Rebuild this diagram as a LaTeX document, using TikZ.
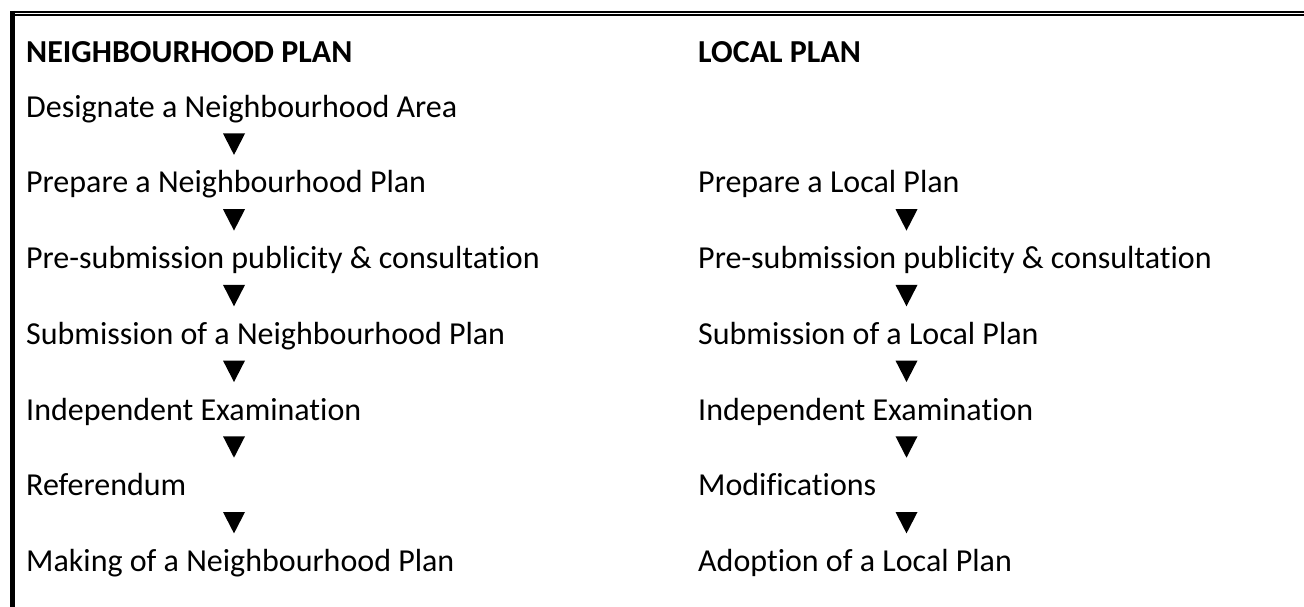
\documentclass[tikz,border=0pt]{standalone}
\usepackage{fontspec}
\setmainfont{Carlito}[Ligatures=NoCommon]
\usetikzlibrary{positioning}

\begin{document}
\begin{tikzpicture}[x=1pt, y=-1pt,
    every node/.style={anchor=base west, inner sep=0pt, font=\fontsize{32}{38}\selectfont},
    head/.style={font=\fontsize{32}{38}\selectfont\bfseries},
    downtri/.pic={\fill (-11,-10.7) -- (11,-10.7) -- (0,10.7) -- cycle;}]
   \useasboundingbox (0,0) rectangle (1304,607);

   % frame: double rule on top, heavy rule on the left
   \draw[line width=1.7pt] (10,11.8) -- (1304,11.8);
   \draw[line width=2.3pt] (10,14.9) -- (1304,14.9);
   \draw[line width=4.7pt] (12.35,11) -- (12.35,607);

   % neighbourhood plan column
   \node[head] (np) at (26,62.7) {NEIGHBOURHOOD PLAN};
   \node (n1) at (26,117.3) {Designate a Neighbourhood Area};
   \node (n2) at (26,193.0) {Prepare a Neighbourhood Plan};
   \node (n3) at (26,268.7) {Pre-submission publicity \& consultation};
   \node (n4) at (26,344.4) {Submission of a Neighbourhood Plan};
   \node (n5) at (26,420.1) {Independent Examination};
   \node (n6) at (26,495.8) {Referendum};
   \node (n7) at (26,571.5) {Making of a Neighbourhood Plan};

   % local plan column
   \node[head] (lp) at (698,62.7) {LOCAL PLAN};
   \node (l2) at (698,193.0) {Prepare a Local Plan};
   \node (l3) at (698,268.7) {Pre-submission publicity \& consultation};
   \node (l4) at (698,344.4) {Submission of a Local Plan};
   \node (l5) at (698,420.1) {Independent Examination};
   \node (l6) at (698,495.8) {Modifications};
   \node (l7) at (698,571.5) {Adoption of a Local Plan};

   % step markers
   \foreach \y in {144.2,219.9,295.6,371.3,447.0,522.7}
     \pic at (234,\y) {downtri};
   \foreach \y in {219.9,295.6,371.3,447.0,522.7}
     \pic at (906.5,\y) {downtri};
\end{tikzpicture}
\end{document}
